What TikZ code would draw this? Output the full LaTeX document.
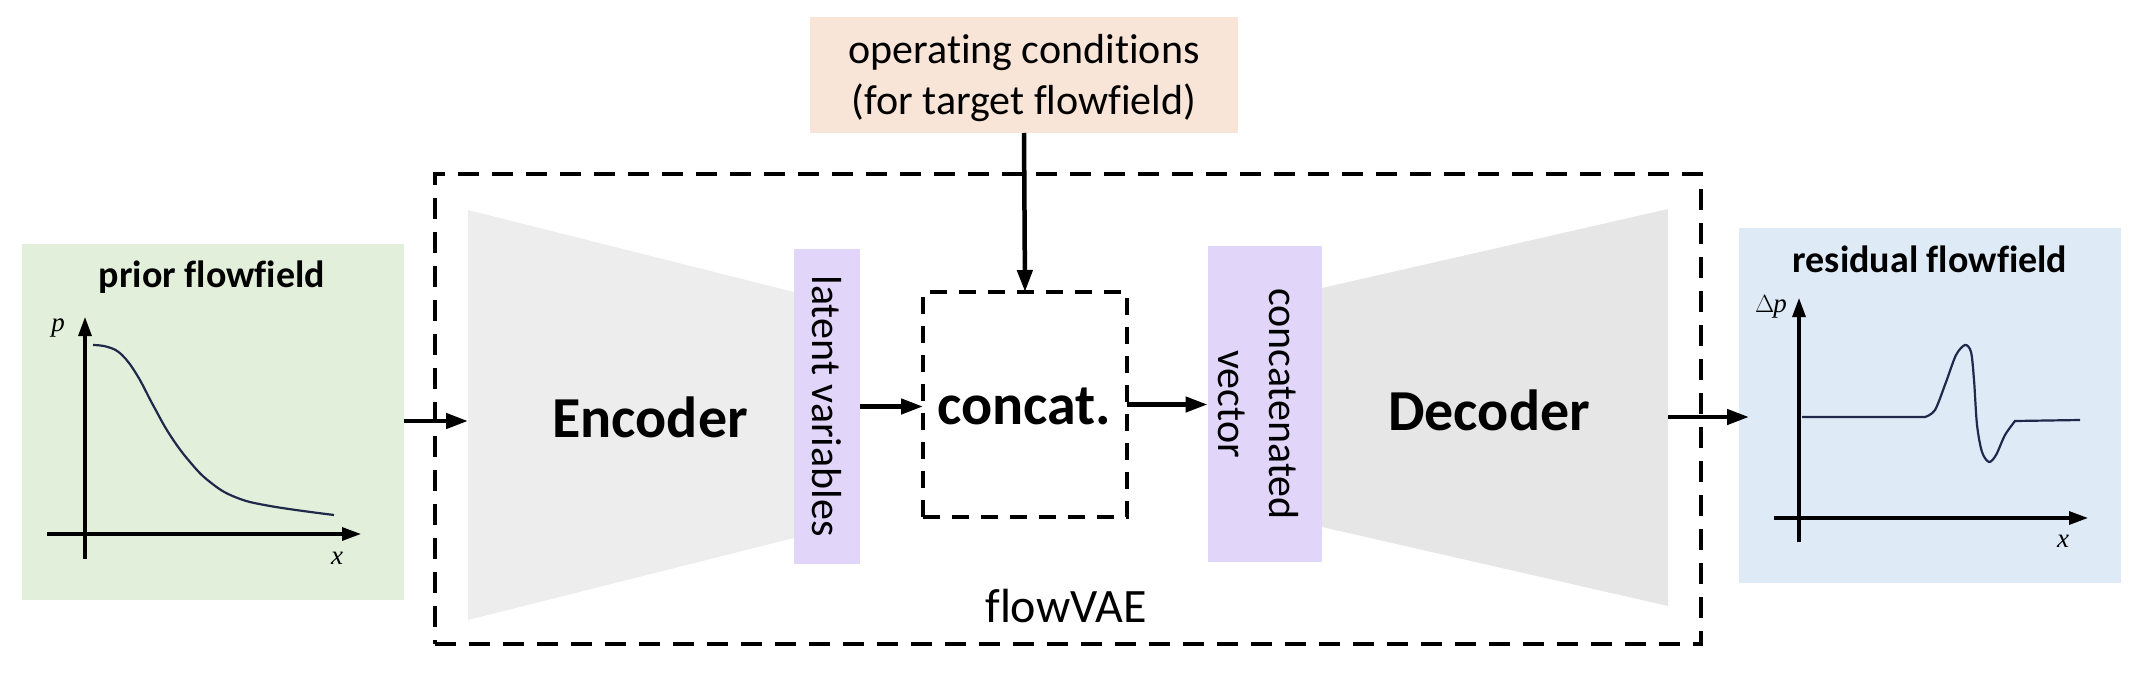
\documentclass[tikz,border=0pt]{standalone}
\usepackage{fontspec}
\setmainfont{Carlito}[Ligatures=NoCommon]
\newfontfamily\tms{Liberation Serif}
\usetikzlibrary{arrows.meta}
\definecolor{cgreen}{HTML}{E2EFDA}
\definecolor{cblue}{HTML}{DEEBF7}
\definecolor{corange}{HTML}{F9E5D7}
\definecolor{clav}{HTML}{E1D5FA}
\definecolor{cenc}{HTML}{EDEDED}
\definecolor{cdec}{HTML}{E6E6E6}
\definecolor{ccurve}{HTML}{1F2A4A}
\begin{document}
\begin{tikzpicture}[x=1pt,y=-1pt,
  box/.style={inner sep=0pt, outer sep=0pt, draw=none},
  arr/.style={line width=4.5pt, -{Triangle[length=22pt,width=15pt]}},
  axis/.style={line width=3.2pt, -{Triangle[length=19pt,width=13pt]}},
  curve/.style={line width=2.2pt, ccurve},
  reglbl/.style={font=\fontsize{42}{51}\selectfont, align=center, inner sep=0pt},
  boldlbl/.style={font=\bfseries\fontsize{58}{66}\selectfont, inner sep=0pt},
  titlelbl/.style={font=\bfseries\fontsize{38}{44}\selectfont, inner sep=0pt},
  mathlbl/.style={font=\tms\fontsize{27}{30}\selectfont, inner sep=0pt},
]
\useasboundingbox (0,0) rectangle (2138,690);

% dashed flowVAE frame
\node[box, draw, line width=4pt, dash pattern=on 21pt off 13pt, minimum width=1266, minimum height=470] (vae) at (1068,409) {};
\node[reglbl, font=\fontsize{48}{56}\selectfont] (vaelbl) at (1066,606) {flowVAE};

% encoder / decoder trapezoids
\fill[cenc] (468,210) -- (794,292) -- (794,538) -- (468,620) -- cycle;
\fill[cdec] (1322,288) -- (1668,209) -- (1668,606) -- (1322,527) -- cycle;
\node[boldlbl] (enc) at (650,417) {Encoder};
\node[boldlbl] (dec) at (1489,410) {Decoder};
\coordinate (encIn) at (468,421);
\coordinate (decOut) at (1668,417);
\coordinate (residIn) at (1749,417);

% latent / concatenated vector boxes
\node[box, fill=clav, minimum width=66, minimum height=315] (latent) at (827,406.5) {};
\node[reglbl, rotate=-90] (latentlbl) at (827,406) {latent variables};
\node[box, fill=clav, minimum width=114.5, minimum height=316] (cvec) at (1264.75,404) {};
\node[reglbl, rotate=-90] (cveclbl) at (1258,404) {concatenated\\vector};

% concat box
\node[box, draw, line width=4pt, dash pattern=on 17pt off 12pt, minimum width=204, minimum height=225] (concat) at (1025,404.5) {};
\node[boldlbl] (concatlbl) at (1024,406) {concat.};

% operating conditions
\node[box, fill=corange, minimum width=428, minimum height=116] (opcond) at (1024,75) {};
\node[reglbl] (opcondlbl) at (1024,78) {operating conditions\\(for target flowfield)};

% prior flowfield
\node[box, fill=cgreen, minimum width=382, minimum height=356] (prior) at (213,422) {};
\node[titlelbl] (priorlbl) at (212,277) {prior flowfield};
\draw[axis] (85,559) -- (85,317);
\draw[axis] (47,534) -- (361,534);
\node[mathlbl, font=\tms\itshape\fontsize{27}{30}\selectfont] (plbl) at (58,328) {p};
\node[mathlbl, font=\tms\itshape\fontsize{27}{30}\selectfont] (xlbl1) at (337,558) {x};
\draw[curve] plot[smooth, tension=0.7] coordinates {(93,345) (108,347) (122,355) (137,375) (153,405) (170,435) (190,462) (210,482) (235,497) (270,506) (334,515)};

% residual flowfield
\node[box, fill=cblue, minimum width=382, minimum height=355] (resid) at (1930,405.5) {};
\node[titlelbl] (residlbl) at (1930,259) {residual flowfield};
\draw[axis] (1799,542) -- (1799,298);
\draw[axis] (1774,518) -- (2088,518);
\node[mathlbl] (dplbl) at (1771,307) {$\Delta$\kern-1pt\itshape p};
\node[mathlbl, font=\tms\itshape\fontsize{27}{30}\selectfont] (xlbl2) at (2063,541) {x};
\draw[curve] (1802,417) -- (1925,417)
  plot[smooth, tension=0.5] coordinates {(1925,417) (1935,410) (1946,382) (1956,355) (1965,345) (1971,352) (1974,380) (1977,425) (1982,452) (1989,462) (1996,455) (2005,435) (2015,421)}
  -- (2080,420);

% connectors
\draw[arr] (prior.east |- encIn) -- (encIn);
\draw[arr] (latent.east) -- (latent.east -| concat.west);
\draw[arr] (concat.east) -- (concat.east -| cvec.west);
\draw[arr] (opcond.south) -- (concat.north);
\draw[arr] (decOut) -- (residIn);
\end{tikzpicture}
\end{document}
